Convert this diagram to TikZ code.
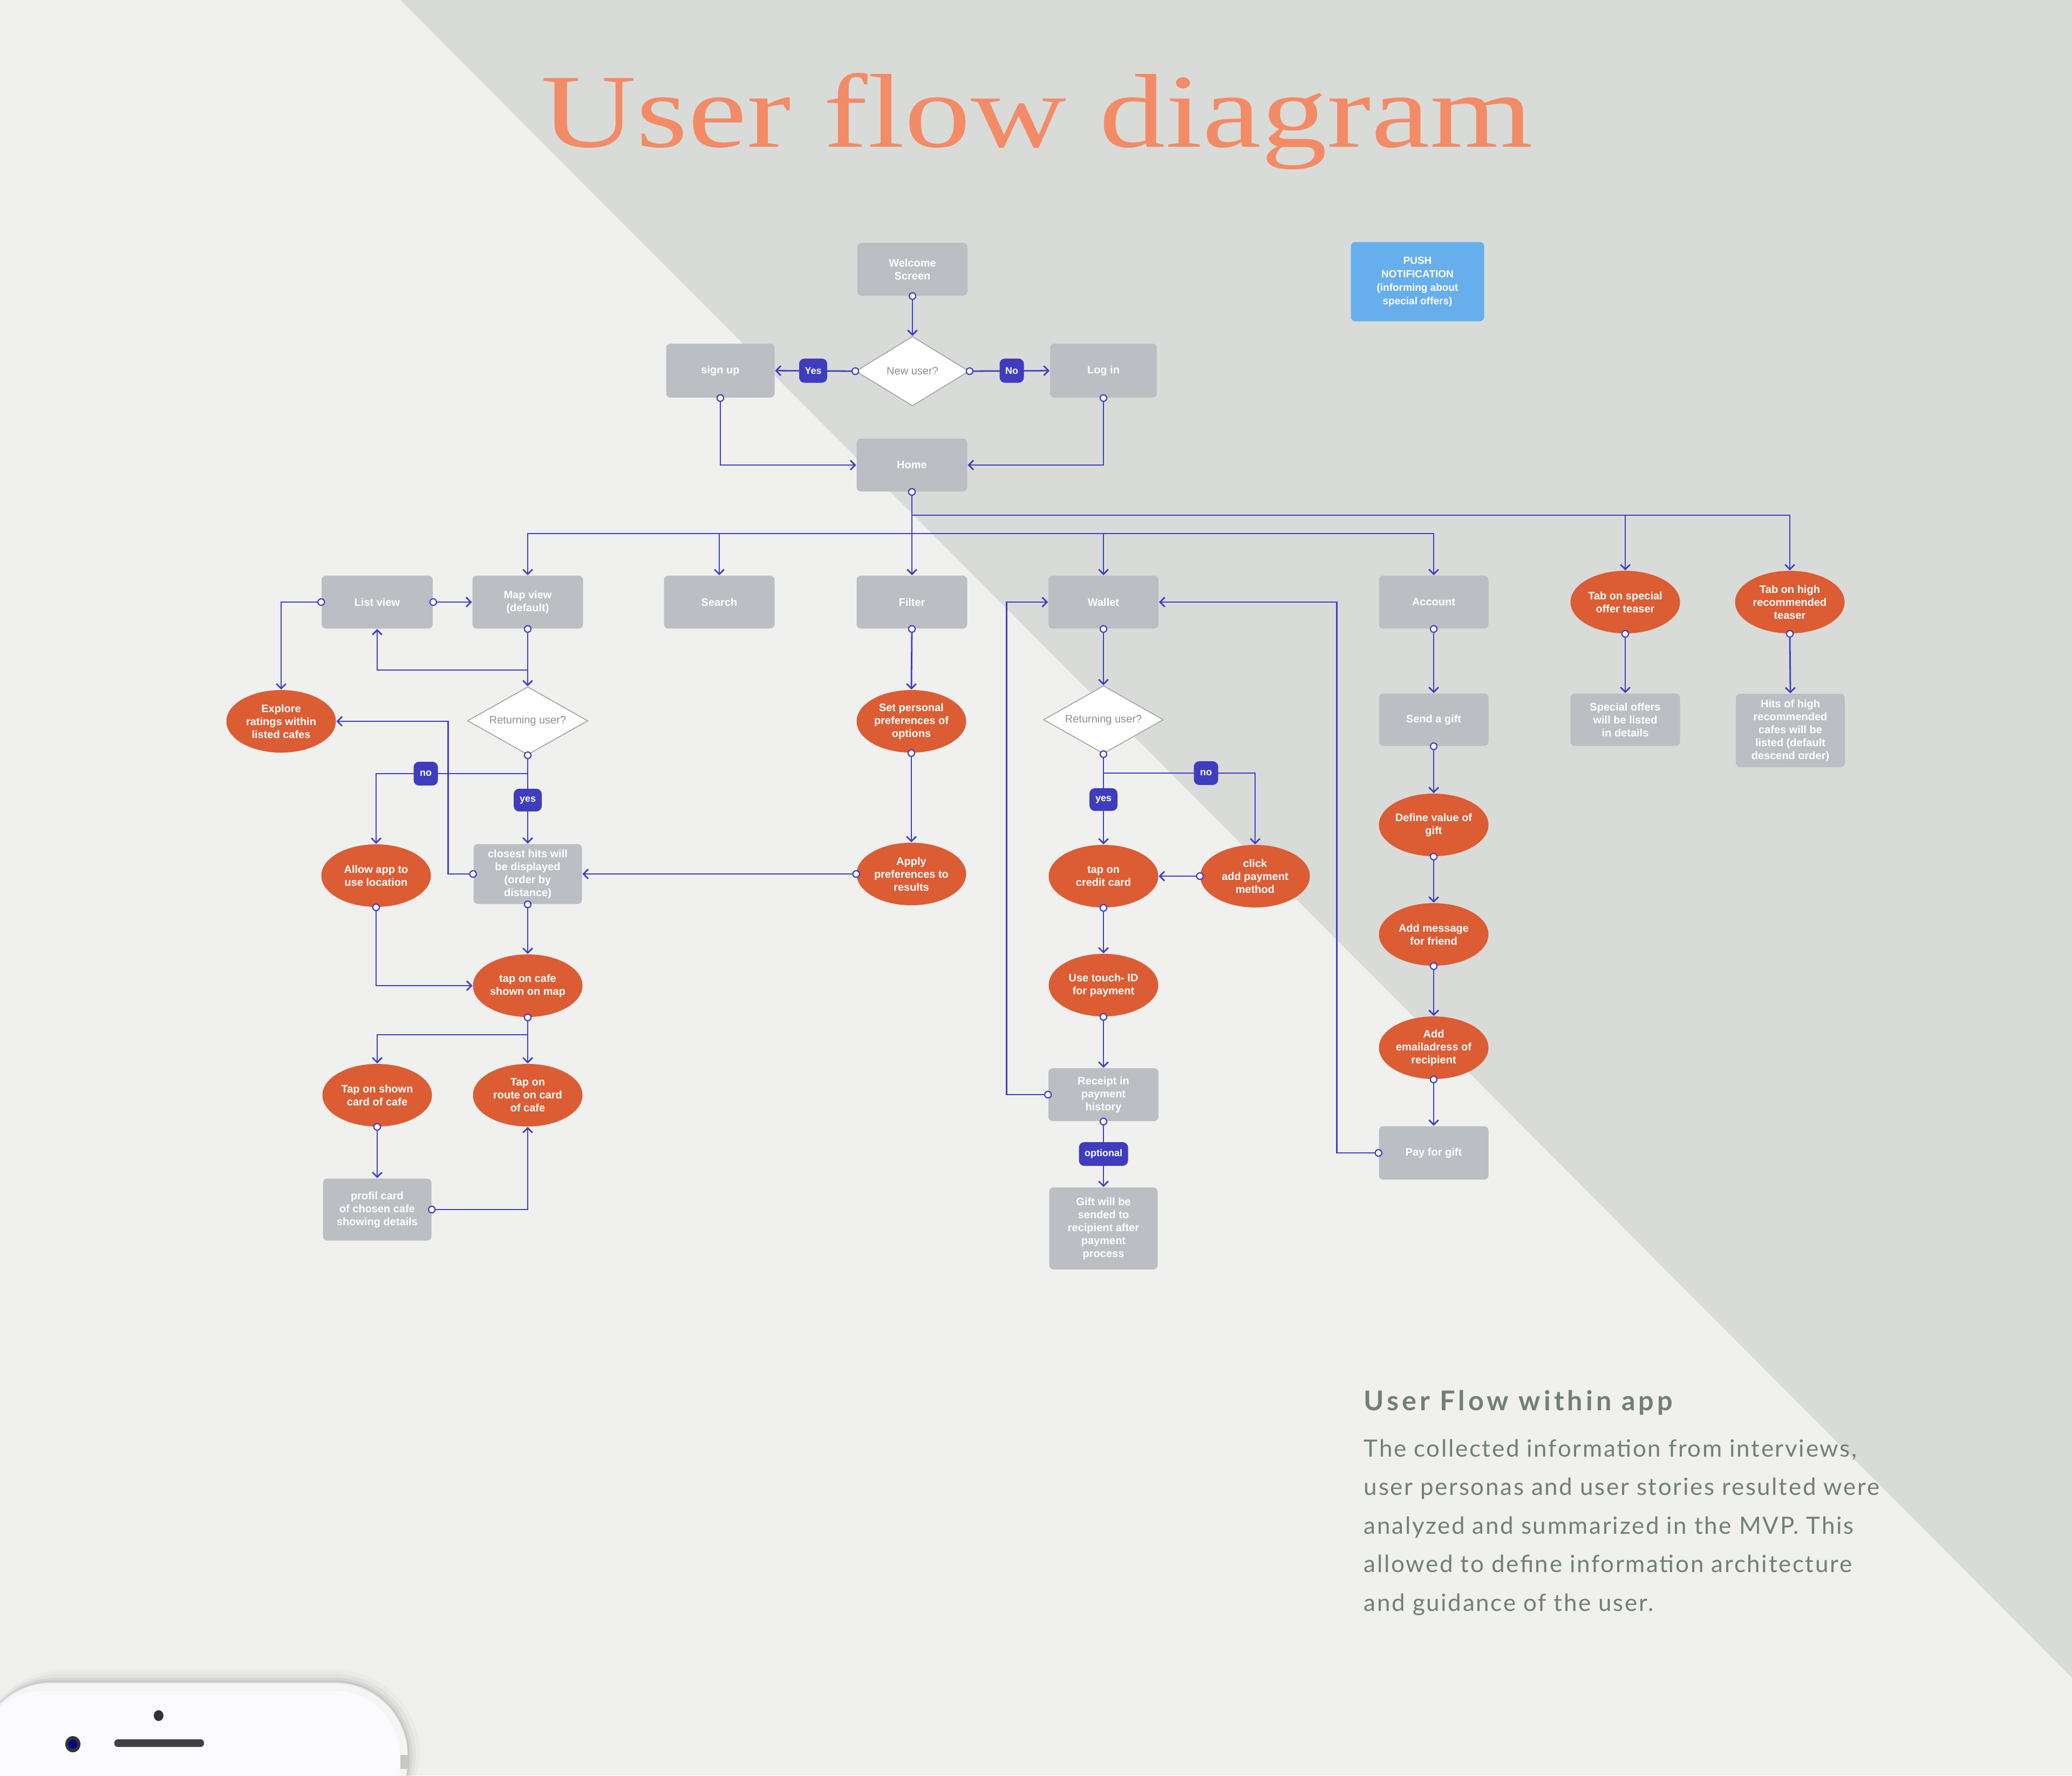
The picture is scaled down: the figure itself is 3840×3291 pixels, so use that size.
\documentclass[tikz,border=0pt]{standalone}
\usepackage{fontspec}
\usepackage{graphicx}
\setmainfont{Liberation Sans}
\newfontfamily\titlefont{Liberation Serif}
\newfontfamily\latofont[LetterSpace=6]{Lato}
\newfontfamily\latohead[LetterSpace=12]{Lato}
\usetikzlibrary{shapes.geometric,arrows.meta,calc}
\newlength\pxu
\setlength\pxu{0.25pt}
\definecolor{bglight}{HTML}{F0F0EE}
\definecolor{bgdark}{HTML}{D9DBD8}
\definecolor{flowblue}{HTML}{3E3ECB}
\definecolor{boxgray}{HTML}{BBBEC3}
\definecolor{ovalorange}{HTML}{DC5C34}
\definecolor{labelblue}{HTML}{3D3DBE}
\definecolor{titleorange}{HTML}{F28B66}
\definecolor{pushblue}{HTML}{66AFEC}
\definecolor{textgreen}{HTML}{717F78}
\definecolor{diamondgray}{HTML}{A8A8A8}
\definecolor{diamondtext}{HTML}{8E8E8E}
\tikzset{
  nodefont/.style={font=\bfseries\fontsize{5}{6}\selectfont},
  box/.style={rectangle, rounded corners=2pt, fill=boxgray, text=white, nodefont, align=center, inner sep=0pt, minimum width=204\pxu, minimum height=98\pxu},
  oval/.style={ellipse, fill=ovalorange, text=white, nodefont, align=center, inner sep=0pt, minimum width=203\pxu, minimum height=116\pxu},
  decision/.style={diamond, fill=white, draw=diamondgray, line width=0.45pt, text=diamondtext, font=\fontsize{5}{6}\selectfont, inner sep=0pt, aspect=1.77, minimum width=223\pxu, minimum height=126\pxu},
  tag/.style={rectangle, rounded corners=2.5pt, fill=labelblue, text=white, font=\bfseries\fontsize{4.5}{5}\selectfont, inner xsep=1.5pt, inner ysep=0pt, minimum width=45\pxu, minimum height=44\pxu},
  conn/.style={draw=flowblue, line width=0.7pt},
  ca/.style={conn, arrows={Circle[open,fill=white,length=3.6pt,width=3.6pt,line width=0.55pt]-Straight Barb[length=2.2pt,width=4.4pt,line width=0.7pt]}, shorten <=-1.8pt},
  ar/.style={conn, arrows={-Straight Barb[length=2.2pt,width=4.4pt,line width=0.7pt]}},
  bodyline/.style={anchor=base west, inner sep=0pt, text=textgreen, font=\latofont\fontsize{11}{11}\selectfont}
}
\begin{document}
\begin{tikzpicture}[x=0.25pt,y=-0.25pt]
\useasboundingbox (0,0) rectangle (3840,3291);
% background
\fill[bglight] (0,0) rectangle (3840,3291);
\fill[bgdark] (742,0) -- (3840,0) -- (3840,3110) -- cycle;

% title
\node[anchor=base west, inner sep=0pt, text=titleorange] (title) at (1002,272)
  {\resizebox{1838\pxu}{137\pxu}{\titlefont\fontsize{40}{40}\selectfont User flow diagram}};

% top part
\node[box] (welcome) at (1691,499) {Welcome\\Screen};
\node[decision, aspect=1.63, minimum width=210\pxu, minimum height=129\pxu] (newuser) at (1691,688) {New user?};
\node[box, minimum width=201\pxu, minimum height=100\pxu] (signup) at (1335,687) {sign up};
\node[box, minimum width=198\pxu, minimum height=100\pxu] (login) at (2045,687) {Log in};
\node[box, minimum width=205\pxu] (home) at (1690,862) {Home};
\node[box, fill=pushblue, minimum width=247\pxu, minimum height=147\pxu, font=\bfseries\fontsize{4.75}{6.25}\selectfont] (push) at (2627,522) {PUSH\\NOTIFICATION\\(informing about\\special offers)};

% row 1
\node[box, minimum width=206\pxu] (listv) at (699,1116) {List view};
\node[box, minimum width=205\pxu] (mapv) at (978,1116) {Map view\\(default)};
\node[box, minimum width=205\pxu] (search) at (1333,1116) {Search};
\node[box, minimum width=205\pxu] (filter) at (1690,1116) {Filter};
\node[box] (wallet) at (2045,1116) {Wallet};
\node[box, minimum width=203\pxu] (account) at (2657,1116) {Account};
\node[oval] (teaser1) at (3012,1116) {Tab on special\\offer teaser};
\node[oval] (teaser2) at (3317,1116) {Tab on high\\recommended\\teaser};

% row 2
\node[oval] (explore) at (521,1337) {Explore\\ratings within\\listed cafes};
\node[decision] (ret1) at (978,1336) {Returning user?};
\node[oval] (setp) at (1689,1337) {Set personal\\preferences of\\options};
\node[decision, minimum width=222\pxu] (ret2) at (2045,1334) {Returning user?};
\node[box, minimum width=203\pxu, minimum height=97\pxu] (sendgift) at (2657,1334) {Send a gift};
\node[box, minimum width=203\pxu, minimum height=97\pxu] (special) at (3012,1334) {Special offers\\will be listed\\in details};
\node[box, minimum width=202\pxu, minimum height=136\pxu] (hits) at (3318,1354) {Hits of high\\recommended\\cafes will be\\listed (default\\descend order)};
\node[oval] (define) at (2657,1529) {Define value of\\gift};

% row 3
\node[oval] (allow) at (697,1623) {Allow app to\\use location};
\node[box, minimum width=201\pxu, minimum height=111\pxu] (closest) at (978,1620) {closest hits will\\be displayed\\(order by\\distance)};
\node[oval] (apply) at (1689,1620) {Apply\\preferences to\\results};
\node[oval] (credit) at (2045,1624) {tap on\\credit card};
\node[oval] (click) at (2326,1624) {click\\add payment\\method};
\node[oval] (message) at (2657,1732) {Add message\\for friend};

% row 4
\node[oval] (cafe) at (978,1827) {tap on cafe\\shown on map};
\node[oval] (touch) at (2045,1826) {Use touch- ID\\for payment};
\node[oval] (email) at (2657,1942) {Add\\emailadress of\\recipient};
\node[oval] (shown) at (699,2030) {Tap on shown\\card of cafe};
\node[oval] (route) at (978,2030) {Tap on\\route on card\\of cafe};
\node[box] (receipt) at (2045,2029) {Receipt in\\payment\\history};
\node[box, minimum width=203\pxu, minimum height=99\pxu] (pay) at (2657,2137) {Pay for gift};
\node[box, minimum width=201\pxu, minimum height=115\pxu] (profil) at (699,2242) {profil card\\of chosen cafe\\showing details};
\node[box, minimum width=201\pxu, minimum height=152\pxu] (gift) at (2045,2277) {Gift will be\\sended to\\recipient after\\payment\\process};

% connectors: top
\draw[ca] (welcome.south) -- (newuser.north);
\draw[ca] (newuser.west) -- (signup.east);
\draw[ca] (newuser.east) -- (login.west);
\draw[ca] (signup.south) |- (home.west);
\draw[ca] (login.south) |- (home.east);
\coordinate (busA) at (1690,955);
\coordinate (busB) at (1690,989);
\draw[ca] (home.south) -- (filter.north);
\draw[ar] (busA) -| (teaser2.north);
\draw[ar] (busA -| teaser1.north) -- (teaser1.north);
\draw[ar] (busB) -| (mapv.north);
\draw[ar] (busB) -| (account.north);
\draw[ar] (busB -| search.north) -- (search.north);
\draw[ar] (busB -| wallet.north) -- (wallet.north);

% map branch
\draw[ca] (listv.east) -- (mapv.west);
\draw[ca] (listv.west) -| (explore.north);
\draw[ca] (mapv.south) -- (ret1.north);
\coordinate (mbr) at (978,1242);
\draw[ar] (mbr) -| (listv.south);
\draw[ca] (ret1.south) -- (closest.north);
\coordinate (r1br) at (978,1434);
\draw[ar] (r1br) -| (allow.north);
\draw[ca] (closest.west) -- ++(-46,0) |- (explore.east);
\draw[ca] (apply.west) -- (closest.east);
\draw[ca] (closest.south) -- (cafe.north);
\draw[ca] (allow.south) |- (cafe.west);
\draw[ca] (cafe.south) -- (route.north);
\coordinate (cbr) at (978,1918);
\draw[ar] (cbr) -| (shown.north);
\draw[ca] (shown.south) -- (profil.north);
\draw[ca] (profil.east) -| (route.south);

% filter
\draw[ca] (filter.south) -- (setp.north);
\draw[ca] (setp.south) -- (apply.north);

% wallet
\draw[ca] (wallet.south) -- (ret2.north);
\draw[ca] (ret2.south) -- (credit.north);
\coordinate (r2br) at (2045,1433);
\draw[ar] (r2br) -| (click.north);
\draw[ca] (click.west) -- (credit.east);
\draw[ca] (credit.south) -- (touch.north);
\draw[ca] (touch.south) -- (receipt.north);
\draw[ca] (receipt.west) -- ++(-77,0) |- (wallet.west);
\draw[ca] (receipt.south) -- (gift.north);
\draw[ca] (pay.west) -- ++(-77,0) |- (wallet.east);

% account
\draw[ca] (account.south) -- (sendgift.north);
\draw[ca] (sendgift.south) -- (define.north);
\draw[ca] (define.south) -- (message.north);
\draw[ca] (message.south) -- (email.north);
\draw[ca] (email.south) -- (pay.north);

% teasers
\draw[ca] (teaser1.south) -- (special.north);
\draw[ca] (teaser2.south) -- (hits.north);

% labels
\node[tag, minimum width=52\pxu, minimum height=45\pxu] (yesA) at (1507,687) {Yes};
\node[tag, minimum height=45\pxu] (noA) at (1875,687) {No};
\node[tag] (no1) at (789,1434) {no};
\node[tag, minimum width=52\pxu, minimum height=42\pxu] (yes1) at (978,1483) {yes};
\node[tag] (no2) at (2235,1433) {no};
\node[tag, minimum width=52\pxu, minimum height=42\pxu] (yes2) at (2045,1482) {yes};
\node[tag, minimum width=91\pxu] (opt) at (2045,2139) {optional};

% description text
\node[anchor=base west, inner sep=0pt, text=textgreen] (uhead) at (2527,2614)
  {\resizebox{572\pxu}{!}{\latohead\bfseries\fontsize{11.75}{12}\selectfont User Flow within app}};
\node[bodyline] (body1) at (2527,2700) {The collected information from interviews,};
\node[bodyline] (body2) at (2527,2771) {user personas and user stories resulted were};
\node[bodyline] (body3) at (2527,2843) {analyzed and summarized in the MVP. This};
\node[bodyline] (body4) at (2527,2914) {allowed to define information architecture};
\node[bodyline] (body5) at (2527,2986) {and guidance of the user.};

% phone corner
\foreach \s/\o in {24/0.025,16/0.035,9/0.05,4/0.07}{
  \fill[black, opacity=\o, rounded corners={(135+\s)*0.25pt}] (-40,3400) -- (-40,3119-\s) -- (755+\s,3119-\s) -- (755+\s,3400) -- cycle;
}
\fill[black!12, rounded corners=33.75pt] (-40,3400) -- (-40,3118) -- (756,3118) -- (756,3400) -- cycle;
\fill[white!96!black, rounded corners=33.75pt] (-40,3400) -- (-40,3120) -- (755,3120) -- (755,3400) -- cycle;
\fill[white!98!blue, rounded corners=30pt] (-40,3400) -- (-40,3134) -- (741,3134) -- (741,3400) -- cycle;
\fill[black!22] (742,3253) rectangle (757,3279);
\fill[black!80] (135,3233) ellipse (14 and 15);
\fill[blue!55!black] (135,3233) circle (8);
\fill[black!80] (294,3180) ellipse (9 and 10);
\fill[black!75, rounded corners=1.5pt] (212,3224) rectangle (378,3238);
\end{tikzpicture}
\end{document}
